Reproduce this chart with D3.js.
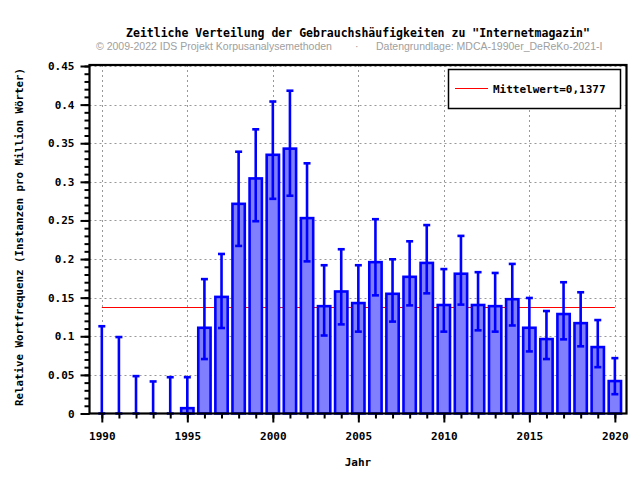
<!DOCTYPE html>
<html>
<head>
<meta charset="utf-8">
<script src="https://cdn.jsdelivr.net/npm/d3@7"></script>
<style>
    body { margin: 0; background: #fff; }
    .mono { font-family: "DejaVu Sans Mono", monospace; font-weight: bold; fill: #000; }
</style>
</head>
<body>
<svg id="chart" width="640" height="480"></svg>
<script>
// Jahre und Werte (Instanzen pro Million Wörter)
const years = d3.range(1990, 2021);
const values = [0, 0, 0, 0, 0, 0.0069, 0.111, 0.151, 0.2715, 0.3044, 0.335,
    0.343, 0.253, 0.139, 0.158, 0.143, 0.196, 0.155, 0.177, 0.195, 0.1405,
    0.181, 0.1405, 0.139, 0.148, 0.111, 0.0964, 0.1288, 0.117, 0.086, 0.042];
const errHigh = [0.113, 0.099, 0.0484, 0.0415, 0.047, 0.047, 0.174, 0.2066, 0.339, 0.368, 0.404,
    0.418, 0.324, 0.192, 0.2127, 0.192, 0.2516, 0.1997, 0.223, 0.244, 0.187,
    0.230, 0.183, 0.182, 0.1937, 0.1496, 0.1327, 0.170, 0.157, 0.121, 0.0717];
const errLow = [0, 0, 0, 0, 0, 0, 0.0705, 0.1107, 0.217, 0.249, 0.278,
    0.282, 0.197, 0.101, 0.1154, 0.106, 0.153, 0.119, 0.140, 0.1556, 0.106,
    0.141, 0.1077, 0.106, 0.114, 0.0804, 0.0705, 0.096, 0.087, 0.060, 0.025];
const mean = 0.1377;
const yTicks = [0, 0.05, 0.1, 0.15, 0.2, 0.25, 0.3, 0.35, 0.4, 0.45];
const xTicks = [1990, 1995, 2000, 2005, 2010, 2015, 2020];

const title = 'Zeitliche Verteilung der Gebrauchshäufigkeiten zu "Internetmagazin"';
const credit = '© 2009-2022 IDS Projekt Korpusanalysemethoden';
const source = 'Datengrundlage: MDCA-1990er_DeReKo-2021-I';

const pLeft = 89.5, pRight = 626.5, pTop = 65, pBottom = 413.5;

const svg = d3.select('#chart');

let x = d3.scaleLinear()
    .domain([1989.28, 2020.68])
    .range([pLeft, pRight]);
let y = d3.scaleLinear()
    .domain([0, 0.45])
    .range([pBottom, pTop + 1]);

const barW = (x(1) - x(0)) * 0.72;

// Gitter
const grid = svg.append('g').attr('stroke', '#999').attr('stroke-dasharray', '2,3');
grid.selectAll('line.gx')
    .data(xTicks)
    .join('line')
    .attr('x1', d => Math.round(x(d)) + 0.5).attr('x2', d => Math.round(x(d)) + 0.5)
    .attr('y1', pTop).attr('y2', pBottom);
grid.selectAll('line.gy')
    .data(yTicks.slice(1))
    .join('line')
    .attr('x1', pLeft).attr('x2', pRight)
    .attr('y1', d => Math.round(y(d)) + 0.5).attr('y2', d => Math.round(y(d)) + 0.5);

// Mittelwert (hinter den Balken)
svg.append('line')
    .attr('x1', x(1990)).attr('x2', x(2020))
    .attr('y1', Math.round(y(mean)) + 0.5).attr('y2', Math.round(y(mean)) + 0.5)
    .attr('stroke', '#ff0000')
    .attr('stroke-width', 1);

// Balken
const data = years.map((yr, i) => ({year: yr, v: values[i], hi: errHigh[i], lo: errLow[i]}));

svg.append('g')
    .selectAll('rect')
    .data(data.filter(d => d.v > 0))
    .join('rect')
    .attr('x', d => x(d.year) - barW / 2)
    .attr('width', barW)
    .attr('y', d => y(d.v))
    .attr('height', d => y(0) - y(d.v))
    .attr('fill', '#8080ff')
    .attr('stroke', '#0000ff')
    .attr('stroke-width', 2.6);

// Fehlerbalken
const err = svg.append('g').attr('stroke', '#0000ff').attr('stroke-width', 2.6);
data.forEach(d => {
    const cx = x(d.year);
    err.append('line').attr('x1', cx).attr('x2', cx).attr('y1', y(d.hi)).attr('y2', y(d.lo));
    err.append('line').attr('x1', cx - 3.5).attr('x2', cx + 3.5).attr('y1', y(d.hi)).attr('y2', y(d.hi));
    err.append('line').attr('x1', cx - 3.5).attr('x2', cx + 3.5).attr('y1', y(d.lo)).attr('y2', y(d.lo));
});

// Achsen
const yAxis = d3.axisLeft(y)
    .tickValues(yTicks)
    .tickSize(9)
    .tickPadding(6)
    .tickFormat(d => d === 0 ? '0' : String(d));
const yMinor = d3.axisLeft(y)
    .ticks(45)
    .tickSize(5)
    .tickFormat('');
const xAxis = d3.axisBottom(x)
    .tickValues(xTicks)
    .tickSize(9)
    .tickPadding(10)
    .tickFormat(d3.format('d'));
const xMinor = d3.axisBottom(x)
    .tickValues(years)
    .tickSize(5)
    .tickFormat('');

function styleAxis(g) {
    g.select('.domain').remove();
    g.selectAll('.tick line').attr('stroke', '#000').attr('stroke-width', 2);
    g.selectAll('.tick text')
        .attr('class', 'mono')
        .style('font-size', '11px');
}

svg.append('g').attr('transform', `translate(${pLeft},0)`).call(yMinor).call(styleAxis);
svg.append('g').attr('transform', `translate(${pLeft},0)`).call(yAxis).call(styleAxis);
svg.append('g').attr('transform', `translate(0,${pBottom})`).call(xMinor).call(styleAxis);
svg.append('g').attr('transform', `translate(0,${pBottom})`).call(xAxis).call(styleAxis);

// Rahmen
svg.append('rect')
    .attr('x', pLeft).attr('y', pTop)
    .attr('width', pRight - pLeft).attr('height', pBottom - pTop)
    .attr('fill', 'none')
    .attr('stroke', '#000')
    .attr('stroke-width', 2.2);

// Legende
const legend = svg.append('g');
legend.append('rect')
    .attr('x', 448.5).attr('y', 69.5)
    .attr('width', 172).attr('height', 39)
    .attr('fill', '#fff')
    .attr('stroke', '#000')
    .attr('stroke-width', 1.5);
legend.append('line')
    .attr('x1', 455).attr('x2', 488)
    .attr('y1', 88.5).attr('y2', 88.5)
    .attr('stroke', '#ff0000');
legend.append('text')
    .attr('class', 'mono')
    .attr('x', 493).attr('y', 92.5)
    .style('font-size', '11px')
    .text('Mittelwert=' + String(mean).replace('.', ','));

// Titel
svg.append('text')
    .attr('class', 'mono')
    .attr('x', 358).attr('y', 37)
    .attr('text-anchor', 'middle')
    .style('font-size', '11.5px')
    .text(title);

const sub = svg.append('g')
    .style('font-family', '"Liberation Sans", Arial, sans-serif')
    .style('font-size', '10.5px')
    .attr('fill', '#a0a0a0');
sub.append('text').attr('x', 96).attr('y', 50).text(credit);
sub.append('text').attr('x', 355).attr('y', 50).text('·');
sub.append('text').attr('x', 376).attr('y', 50).text(source);

// Achsentitel
svg.append('text')
    .attr('class', 'mono')
    .attr('x', 358).attr('y', 466)
    .attr('text-anchor', 'middle')
    .style('font-size', '11px')
    .text('Jahr');

svg.append('text')
    .attr('class', 'mono')
    .attr('transform', 'translate(23,237) rotate(-90)')
    .attr('text-anchor', 'middle')
    .style('font-size', '10.8px')
    .text('Relative Wortfrequenz (Instanzen pro Million Wörter)');
</script>
</body>
</html>
